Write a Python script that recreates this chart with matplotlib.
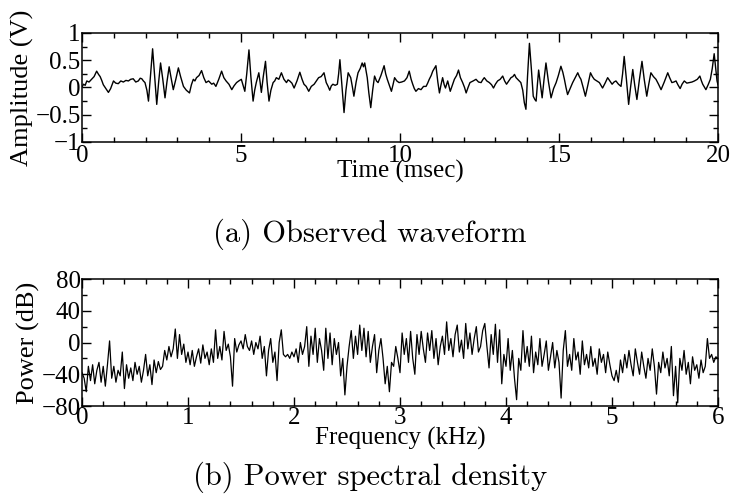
import numpy as np
import matplotlib
matplotlib.use("Agg")
import matplotlib.pyplot as plt
from matplotlib.ticker import MultipleLocator, FuncFormatter

# observed waveform (msec, V)
time_ms = [0.00, 0.05, 0.10, 0.15, 0.22, 0.30, 0.38, 0.46, 0.52, 0.57,
           0.62, 0.67, 0.75, 0.83, 0.90, 0.99, 1.06, 1.14, 1.22, 1.30,
           1.38, 1.46, 1.53, 1.61, 1.69, 1.77, 1.83, 1.88, 1.93, 1.98,
           2.04, 2.09, 2.15, 2.22, 2.28, 2.35, 2.41, 2.47, 2.54, 2.61,
           2.67, 2.74, 2.80, 2.87, 2.95, 3.03, 3.10, 3.19, 3.28, 3.38,
           3.44, 3.50, 3.55, 3.60, 3.68, 3.76, 3.83, 3.90, 3.98, 4.08,
           4.14, 4.21, 4.30, 4.39, 4.46, 4.53, 4.62, 4.71, 4.78, 4.86,
           4.93, 5.01, 5.06, 5.12, 5.18, 5.25, 5.31, 5.38, 5.43, 5.48,
           5.56, 5.60, 5.64, 5.70, 5.77, 5.82, 5.88, 5.94, 6.01, 6.06,
           6.11, 6.19, 6.27, 6.35, 6.43, 6.48, 6.53, 6.60, 6.67, 6.76,
           6.85, 6.92, 6.98, 7.05, 7.13, 7.21, 7.30, 7.37, 7.44, 7.52,
           7.61, 7.68, 7.74, 7.79, 7.84, 7.89, 7.96, 8.03, 8.07, 8.11,
           8.17, 8.24, 8.30, 8.37, 8.45, 8.50, 8.55, 8.62, 8.68, 8.75,
           8.81, 8.85, 8.89, 8.97, 9.02, 9.08, 9.14, 9.20, 9.26, 9.31,
           9.40, 9.50, 9.55, 9.60, 9.66, 9.73, 9.78, 9.83, 9.90, 9.97,
           10.05, 10.14, 10.22, 10.29, 10.35, 10.40, 10.45, 10.50, 10.58, 10.66,
           10.74, 10.82, 10.87, 10.92, 10.98, 11.03, 11.08, 11.13, 11.19, 11.24,
           11.29, 11.34, 11.39, 11.43, 11.50, 11.58, 11.65, 11.71, 11.78, 11.84,
           11.90, 11.97, 12.03, 12.08, 12.14, 12.20, 12.30, 12.39, 12.47, 12.55,
           12.60, 12.65, 12.73, 12.81, 12.88, 12.94, 13.00, 13.07, 13.15, 13.23,
           13.29, 13.35, 13.42, 13.49, 13.55, 13.60, 13.65, 13.70, 13.75, 13.80,
           13.86, 13.91, 13.96, 14.01, 14.07, 14.13, 14.19, 14.24, 14.28, 14.32,
           14.36, 14.42, 14.47, 14.53, 14.59, 14.67, 14.75, 14.83, 14.91, 14.98,
           15.06, 15.12, 15.17, 15.22, 15.27, 15.35, 15.43, 15.51, 15.59, 15.64,
           15.69, 15.76, 15.83, 15.91, 15.99, 16.05, 16.11, 16.19, 16.27, 16.32,
           16.37, 16.45, 16.53, 16.60, 16.67, 16.73, 16.79, 16.87, 16.95, 17.00,
           17.05, 17.12, 17.19, 17.25, 17.32, 17.38, 17.45, 17.53, 17.61, 17.68,
           17.76, 17.82, 17.89, 17.97, 18.05, 18.13, 18.21, 18.31, 18.42, 18.48,
           18.55, 18.61, 18.68, 18.74, 18.81, 18.87, 18.94, 19.02, 19.10, 19.18,
           19.26, 19.35, 19.43, 19.48, 19.52, 19.57, 19.62, 19.69, 19.76, 19.82,
           19.88, 19.93, 19.97, 20.00]
amp_v = [0.01, 0.06, 0.04, 0.12, 0.10, 0.15, 0.20, 0.30, 0.24, 0.20,
         0.13, 0.05, -0.02, -0.09, -0.02, 0.12, 0.08, 0.07, 0.12, 0.10,
         0.13, 0.12, 0.15, 0.16, 0.10, 0.12, 0.17, 0.16, 0.12, 0.09,
         -0.05, -0.25, 0.20, 0.71, 0.25, -0.31, 0.10, 0.45, 0.15, -0.19,
         0.10, 0.38, 0.18, -0.04, 0.15, 0.36, 0.20, 0.02, -0.05, -0.10,
         0.05, 0.15, 0.12, 0.18, 0.22, 0.31, 0.18, 0.09, 0.12, 0.06,
         0.08, 0.02, 0.15, 0.30, 0.18, 0.12, 0.06, -0.04, 0.03, 0.09,
         0.12, 0.15, 0.05, -0.07, 0.25, 0.69, 0.20, -0.25, -0.05, 0.09,
         0.27, 0.10, -0.09, 0.20, 0.48, 0.10, -0.25, -0.05, 0.09, 0.12,
         0.18, 0.15, 0.27, 0.15, 0.09, 0.14, 0.12, 0.08, -0.01, 0.12,
         0.28, 0.15, 0.06, 0.02, -0.07, 0.02, 0.06, 0.12, 0.18, 0.20,
         0.27, 0.09, 0.02, -0.05, 0.03, 0.06, 0.04, 0.06, 0.25, 0.51,
         0.05, -0.46, -0.05, 0.27, 0.18, 0.02, -0.16, 0.10, 0.27, 0.35,
         0.45, 0.38, 0.45, 0.18, -0.10, -0.37, -0.05, 0.21, 0.12, 0.09,
         0.22, 0.40, 0.25, 0.15, 0.05, -0.07, 0.05, 0.18, 0.12, 0.09,
         0.10, 0.12, 0.18, 0.30, 0.15, 0.06, -0.02, -0.07, -0.02, -0.04,
         0.02, 0.02, 0.08, 0.15, 0.22, 0.30, 0.35, 0.40, 0.10, -0.10,
         0.05, 0.18, 0.05, -0.01, 0.12, -0.07, 0.05, 0.15, 0.22, 0.32,
         0.18, 0.09, 0.00, -0.10, 0.00, 0.09, 0.12, 0.15, 0.10, 0.09,
         0.14, 0.18, 0.12, 0.09, 0.05, -0.01, 0.06, 0.12, 0.15, 0.21,
         0.12, 0.06, 0.12, 0.18, 0.20, 0.24, 0.18, 0.15, 0.12, 0.09,
         -0.05, -0.28, -0.40, 0.20, 0.81, 0.35, -0.16, -0.22, -0.25, 0.05,
         0.32, 0.05, -0.19, 0.15, 0.45, 0.10, -0.19, -0.02, 0.09, 0.22,
         0.39, 0.28, 0.15, 0.00, -0.13, -0.02, 0.09, 0.18, 0.27, 0.20,
         0.15, 0.00, -0.16, 0.05, 0.27, 0.20, 0.15, 0.12, 0.09, 0.04,
         -0.01, 0.08, 0.18, 0.12, 0.06, 0.10, 0.12, 0.06, 0.02, 0.25,
         0.57, 0.15, -0.31, 0.00, 0.33, 0.05, -0.22, 0.15, 0.48, 0.15,
         -0.16, 0.05, 0.27, 0.20, 0.15, 0.06, -0.04, 0.10, 0.27, 0.18,
         0.09, 0.10, 0.12, 0.05, -0.02, 0.06, 0.12, 0.08, 0.09, 0.10,
         0.12, 0.15, 0.21, 0.12, 0.06, 0.01, -0.04, 0.05, 0.15, 0.35,
         0.62, 0.35, 0.12, 0.05]

# power spectral density, bins every 0.02 kHz from 0 to 6 kHz
psd_db = [-38, -45, -62, -30, -48, -28, -52, -35, -25, -50,
          -30, -55, -28, 2, -45, -30, -50, -35, -42, -12,
          -58, -28, -45, -32, -48, -25, -40, -30, -50, -35,
          -15, -42, -28, -53, -22, -38, -24, -34, -30, -10,
          -22, -5, -18, -8, 17, -20, 10, -15, -2, -25,
          -12, -28, -10, -30, -18, -8, -26, -3, -20, -12,
          -28, -8, -25, 16, -20, -5, -22, 14, -10, -2,
          -18, -55, 5, -12, -3, 2, -8, 10, -5, -10,
          2, -15, 0, -8, 8, -20, -5, -42, -10, 5,
          -25, -12, -48, 0, 16, -15, -18, -15, -20, -12,
          -18, -8, -25, 0, -15, -5, 20, -30, 8, -15,
          18, -25, 5, -10, -35, 18, -20, 12, -28, 5,
          -15, 0, -42, -20, -66, -30, -5, 15, -20, 8,
          -15, 22, -10, 18, -18, 14, -25, -5, 10, -38,
          -10, 5, -20, -52, -30, -62, -25, -30, -5, -20,
          -38, 12, -15, 5, -25, 14, -20, -40, 10, -15,
          14, -8, -25, 12, -10, 15, -20, 5, -28, -5,
          8, -15, 26, -10, 5, -18, 10, 22, -12, 3,
          -20, 24, -8, 12, -15, 5, 20, -12, -5, 15,
          24, -5, -32, 10, -15, 23, -25, 16, -52, -15,
          -30, 5, -35, -10, -45, -72, -20, -35, 15, -25,
          -5, -30, 8, -38, -12, -28, 5, -30, -15, 2,
          -35, -18, 0, -32, -10, -25, -70, -10, 15, -30,
          -15, -35, 5, -22, -12, -40, 2, -28, -15, -32,
          -5, -30, -20, -40, -8, -25, -15, -38, -12, -28,
          -42, -48, -35, -50, -22, -38, -15, -32, -10, -28,
          -42, -8, -25, -40, -12, -30, -45, -20, -35, -8,
          -30, -65, -25, -38, -12, -32, -20, -42, -5, -67,
          -30, -76, -20, -35, -10, -40, -25, -52, -18, -35,
          -28, -45, -22, -38, -30, 5, -20, -15, -25, -18,
          -20]
freq_khz = np.linspace(0, 6, len(psd_db))

plt.rcParams["font.family"] = "Liberation Serif"
plt.rcParams["font.size"] = 18
plt.rcParams["axes.linewidth"] = 1.1

def fmt(v, pos):
    return ("%g" % v).replace("-", "\u2212")

def style(ax):
    ax.tick_params(which="both", direction="in", top=True, right=True, width=1.0)
    ax.tick_params(which="major", length=6.5)
    ax.tick_params(which="minor", length=3.5)
    ax.tick_params(axis="x", pad=2)
    ax.tick_params(axis="y", pad=1)
    ax.xaxis.set_major_formatter(FuncFormatter(fmt))
    ax.yaxis.set_major_formatter(FuncFormatter(fmt))

fig = plt.figure(figsize=(7.31, 4.94), dpi=100)

ax1 = fig.add_axes([0.1122, 0.7126, 0.870, 0.2206])
ax1.plot(time_ms, amp_v, color="black", lw=1.0)
ax1.set_xlim(0, 20)
ax1.set_ylim(-1, 1)
ax1.xaxis.set_major_locator(MultipleLocator(5))
ax1.xaxis.set_minor_locator(MultipleLocator(1))
ax1.yaxis.set_major_locator(MultipleLocator(0.5))
ax1.yaxis.set_minor_locator(MultipleLocator(0.25))
style(ax1)
ax1.set_xlabel("Time (msec)", fontsize=18, labelpad=-5)
ax1.set_ylabel("Amplitude (V)", fontsize=19, labelpad=1)

ax2 = fig.add_axes([0.1122, 0.1781, 0.870, 0.2571])
ax2.plot(freq_khz, psd_db, color="black", lw=0.9)
ax2.set_xlim(0, 6)
ax2.set_ylim(-80, 80)
ax2.xaxis.set_major_locator(MultipleLocator(1))
ax2.xaxis.set_minor_locator(MultipleLocator(0.2))
ax2.yaxis.set_major_locator(MultipleLocator(40))
ax2.yaxis.set_minor_locator(MultipleLocator(20))
style(ax2)
ax2.tick_params(axis="x", pad=1)
ax2.set_xlabel("Frequency (kHz)", fontsize=18, labelpad=-2)
ax2.set_ylabel("Power (dB)", fontsize=19, labelpad=1)

fig.text(0.506, 0.526, "(a) Observed waveform", family="cmr10",
         fontsize=22, ha="center", va="center")
fig.text(0.506, 0.034, "(b) Power spectral density", family="cmr10",
         fontsize=22, ha="center", va="center")

fig.savefig("out.png", dpi=100)
